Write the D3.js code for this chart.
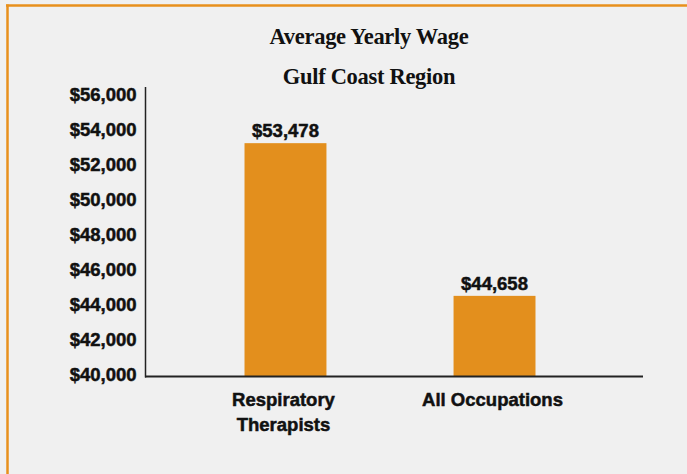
<!DOCTYPE html>
<html lang="en">
    <head>
        <meta charset="utf-8">
        <title>Average Yearly Wage - Gulf Coast Region</title>
        <script src="https://d3js.org/d3.v7.min.js"></script>
        <style type="text/css">
            html, body {
                margin: 0;
                padding: 0;
                background-color: #f0f0f0;
            }
            .title {
                font-family: "Liberation Serif", "Times New Roman", serif;
                font-weight: bold;
                font-size: 22.5px;
                fill: #111;
                letter-spacing: -0.3px;
            }
            .labels {
                font-family: "Liberation Sans", Arial, sans-serif;
                font-weight: bold;
                font-size: 18.5px;
                fill: #111;
                stroke: #111;
                stroke-width: 0.5px;
            }
        </style>
    </head>
    <body>
        <script type="text/javascript">
            // data
            const categories = [["Respiratory", "Therapists"], ["All Occupations"]];
            const wages = [53478, 44658];
            const yTicks = [40000, 42000, 44000, 46000, 48000, 50000, 52000, 54000, 56000];
            const titleLines = ["Average Yearly Wage", "Gulf Coast Region"];

            const w = 687, h = 474;
            const barColor = "#e38f1d";
            const frameColor = "#e8901c";

            const svg = d3.select("body").append("svg")
                          .attr("width", w)
                          .attr("height", h);

            svg.append("rect")
               .attr("width", w).attr("height", h)
               .attr("fill", "#f0f0f0");

            // orange frame (top + left)
            svg.append("line")
               .attr("x1", 6).attr("x2", w).attr("y1", 5.5).attr("y2", 5.5)
               .attr("stroke", frameColor).attr("stroke-width", 2.5);
            svg.append("line")
               .attr("x1", 7.5).attr("x2", 7.5).attr("y1", 4.5).attr("y2", h)
               .attr("stroke", frameColor).attr("stroke-width", 2.5);

            // titles
            svg.selectAll("text.title")
               .data(titleLines)
               .enter()
               .append("text")
               .attr("class", "title")
               .attr("x", 369)
               .attr("y", (d, i) => 44 + i * 40)
               .attr("text-anchor", "middle")
               .text(d => d);

            const keys = categories.map(c => c.join(" "));

            const x = d3.scaleBand()
                        .domain(keys)
                        .range([140, 640])
                        .paddingInner(0.608)
                        .paddingOuter(0.5);

            const y = d3.scaleLinear()
                        .domain([40000, 56000])
                        .range([376.5, 99.5]);

            const fmt = v => "$" + d3.format(",")(v);

            // bars
            svg.selectAll("rect.bar")
               .data(wages)
               .enter()
               .append("rect")
               .attr("class", "bar")
               .attr("x", (d, i) => x(keys[i]))
               .attr("width", x.bandwidth())
               .attr("y", d => y(d))
               .attr("height", d => y(40000) - y(d))
               .attr("fill", barColor);

            // value labels
            svg.selectAll("text.value")
               .data(wages)
               .enter()
               .append("text")
               .attr("class", "labels")
               .attr("x", (d, i) => x(keys[i]) + x.bandwidth() / 2)
               .attr("y", d => y(d) - 6)
               .attr("text-anchor", "middle")
               .text(d => fmt(d));

            // y axis
            const yAxis = d3.axisLeft(y)
                            .tickValues(yTicks)
                            .tickSize(0)
                            .tickPadding(9)
                            .tickFormat(fmt);
            const gy = svg.append("g")
                          .attr("transform", "translate(145.5,0)")
                          .call(yAxis);
            gy.select(".domain").remove();
            gy.selectAll("text")
              .attr("class", "labels")
              .attr("font-family", null)
              .attr("font-size", null)
              .attr("fill", null)
              .attr("dy", d => (0.32 * 18.5 - 1.5 - (d - 40000) / 16000 * 3) + "px");

            svg.append("line")
               .attr("x1", 145.5).attr("x2", 145.5)
               .attr("y1", 87).attr("y2", 377.5)
               .attr("stroke", "#222").attr("stroke-width", 1.5);

            // x axis
            const xAxis = d3.axisBottom(x).tickSize(0).tickFormat("");
            const gx = svg.append("g")
                          .attr("transform", "translate(0,376.5)")
                          .call(xAxis);
            gx.select(".domain").remove();
            svg.append("line")
               .attr("x1", 145).attr("x2", 643)
               .attr("y1", 376.5).attr("y2", 376.5)
               .attr("stroke", "#222").attr("stroke-width", 2);

            // category labels
            const cats = svg.selectAll("text.cat")
                            .data(categories)
                            .enter()
                            .append("text")
                            .attr("class", "labels")
                            .attr("text-anchor", "middle")
                            .attr("y", 406);
            cats.selectAll("tspan")
                .data((d, i) => d.map(line => ({ line, i })))
                .enter()
                .append("tspan")
                .attr("x", d => x(keys[d.i]) + x.bandwidth() / 2 - 2)
                .attr("dy", (d, j) => j === 0 ? 0 : 25)
                .text(d => d.line);
        </script>
    </body>
</html>
